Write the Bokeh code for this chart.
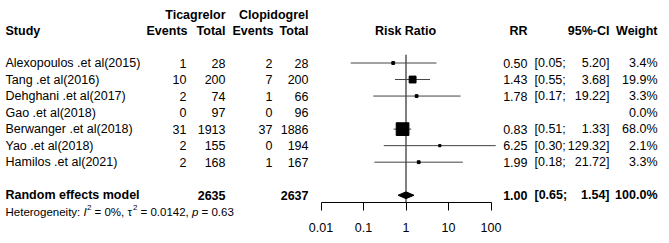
import math
from bokeh.plotting import figure
from bokeh.models import (Range1d, LinearScale, ColumnDataSource, FixedTicker,
                          CustomJSTickFormatter, LogAxis)
from bokeh.embed import file_html
from bokeh.resources import INLINE
from bokeh.core.properties import value

# ---------------- data ----------------
studies = ["Alexopoulos .et al(2015)", "Tang .et al(2016)", "Dehghani .et al(2017)",
           "Gao .et al(2018)", "Berwanger  .et al(2018)", "Yao .et al(2018)",
           "Hamilos .et al(2021)"]
tica_events = [1, 10, 2, 0, 31, 2, 2]
tica_total = [28, 200, 74, 97, 1913, 155, 168]
clop_events = [2, 7, 1, 0, 37, 0, 1]
clop_total = [28, 200, 66, 96, 1886, 194, 167]
rr = [0.50, 1.43, 1.78, float("nan"), 0.83, 6.25, 1.99]
ci_low = [0.05, 0.55, 0.17, float("nan"), 0.51, 0.30, 0.18]
ci_high = [5.20, 3.68, 19.22, float("nan"), 1.33, 129.32, 21.72]
weight = [3.4, 19.9, 3.3, 0.0, 68.0, 2.1, 3.3]

pooled_rr = 1.00
pooled_low = 0.65
pooled_high = 1.54
pooled_weight = 100.0
total_tica = 2635
total_clop = 2637
het_i2 = "0%"
het_tau2 = "0.0142"
het_p = "0.63"
null_value = 1
axis_ticks = [0.01, 0.1, 1, 10, 100]

# ---------------- layout ----------------
W, H = 669, 243
PX_PER_DEC = 42.5
X001 = 320.5           # pixel of 0.01
ROW0 = 62.5            # pixel of first study row
STEP = 16.53           # pixels per row
FONT = "Liberation Sans"
FS = "12.5px"
HFS = "11.5px"
SFS = "8px"

x_range = Range1d(10 ** (-2 - X001 / PX_PER_DEC), 10 ** (-2 + (W - X001) / PX_PER_DEC))
y_range = Range1d((H - ROW0) / STEP, -ROW0 / STEP)

p = figure(width=W, height=H, x_axis_type="log", x_range=x_range, y_range=y_range,
           output_backend="svg", toolbar_location=None,
           x_axis_location=None, y_axis_location=None,
           min_border_left=0, min_border_right=0, min_border_top=0,
           min_border_bottom=0)
p.extra_x_ranges = {"px": Range1d(0, W)}
p.extra_x_scales = {"px": LinearScale()}
p.outline_line_color = None
p.grid.grid_line_color = None
p.background_fill_color = "white"
p.border_fill_color = "white"

rows = list(range(len(studies)))
pooled_row = len(studies) + 1
het_row = pooled_row + 1
axis_row = pooled_row + 0.43
hdr1_row = -2.93
hdr2_row = -1.95

def fmt2(v):
    return "" if math.isnan(v) else f"{v:.2f}"

src = ColumnDataSource(dict(
    y=rows, study=studies,
    te=[str(v) for v in tica_events], tt=[str(v) for v in tica_total],
    ce=[str(v) for v in clop_events], ct=[str(v) for v in clop_total],
    rr=rr, lo=ci_low, hi=ci_high,
    rr_s=[fmt2(v) for v in rr],
    lo_s=["" if math.isnan(v) else f"[{v:.2f};" for v in ci_low],
    hi_s=["" if math.isnan(v) else f"{v:.2f}]" for v in ci_high],
    w_s=[f"{w:.1f}%" for w in weight],
    size=[12.7 * math.sqrt(w / 68.0) for w in weight],
))

# null line
p.segment(x0=[null_value], y0=[-0.5], x1=[null_value], y1=[axis_row],
          line_color="black", line_width=1)
# CI whiskers
p.segment(x0="lo", y0="y", x1="hi", y1="y", source=src, line_color="#444444", line_width=1)
# squares (area proportional to weight)
p.rect(x="rr", y="y", width="size", height="size", width_units="screen",
       height_units="screen", source=src, fill_color="black", line_color="black")
# pooled diamond
dh = 3.4 / STEP
p.patch(x=[pooled_low, pooled_rr, pooled_high, pooled_rr],
        y=[pooled_row, pooled_row - dh, pooled_row, pooled_row + dh],
        fill_color="black", line_color="black")

def txt(x, y, text, align="left", bold=False, source=None, size=FS, style=None):
    kw = dict(x_range_name="px", text_align=align, text_baseline="middle",
              text_font=value(FONT), text_font_size=size, text_color="black",
              text_font_style=style or ("bold" if bold else "normal"))
    if source is not None:
        p.text(x=x, y=y, text=text, source=source, **kw)
    else:
        p.text(x=[x], y=[y], text=[text], **kw)

# study columns
txt(5, "y", "study", source=src)
txt(186, "y", "te", "right", source=src)
txt(225, "y", "tt", "right", source=src)
txt(272, "y", "ce", "right", source=src)
txt(308, "y", "ct", "right", source=src)
txt(527, "y", "rr_s", "right", source=src)
txt(534, "y", "lo_s", "left", source=src)
txt(609, "y", "hi_s", "right", source=src)
txt(657, "y", "w_s", "right", source=src)

# headers
txt(225, hdr1_row, "Ticagrelor", "right", True)
txt(308, hdr1_row, "Clopidogrel", "right", True)
txt(5, hdr2_row, "Study", "left", True)
txt(187, hdr2_row, "Events", "right", True)
txt(225, hdr2_row, "Total", "right", True)
txt(273, hdr2_row, "Events", "right", True)
txt(308, hdr2_row, "Total", "right", True)
txt(405, hdr2_row, "Risk Ratio", "center", True)
txt(527, hdr2_row, "RR", "right", True)
txt(609, hdr2_row, "95%-CI", "right", True)
txt(657, hdr2_row, "Weight", "right", True)

# pooled row
txt(5, pooled_row, "Random effects model", "left", True)
txt(225, pooled_row, str(total_tica), "right", True)
txt(308, pooled_row, str(total_clop), "right", True)
txt(527, pooled_row, f"{pooled_rr:.2f}", "right", True)
txt(534, pooled_row, f"[{pooled_low:.2f};", "left", True)
txt(609, pooled_row, f"{pooled_high:.2f}]", "right", True)
txt(657, pooled_row, f"{pooled_weight:.1f}%", "right", True)

# heterogeneity line
sup = 0.26
txt(5, het_row, "Heterogeneity:", size=HFS)
txt(83, het_row, "I", size=HFS, style="italic")
txt(86.5, het_row - sup, "2", size=SFS)
txt(94, het_row, f"= {het_i2},", size=HFS)
txt(127, het_row, "\u03c4", size=HFS)
txt(132.5, het_row - sup, "2", size=SFS)
txt(140, het_row, f"= {het_tau2},", size=HFS)
txt(191.5, het_row, "p", size=HFS, style="italic")
txt(201, het_row, f"= {het_p}", size=HFS)

# x axis (drawn at a fixed row inside the frame)
ax = LogAxis(bounds=(axis_ticks[0], axis_ticks[-1]),
             ticker=FixedTicker(ticks=axis_ticks, minor_ticks=[]),
             formatter=CustomJSTickFormatter(code="return tick.toString();"),
             fixed_location=axis_row)
ax.major_tick_in = 0
ax.major_tick_out = 8
ax.minor_tick_in = 0
ax.minor_tick_out = 0
ax.axis_line_color = "black"
ax.major_tick_line_color = "black"
ax.major_label_text_font = FONT
ax.major_label_text_font_size = FS
ax.major_label_text_color = "black"
ax.major_label_standoff = 13
p.add_layout(ax, "below")

open("out.html", "w").write(file_html(p, INLINE))
